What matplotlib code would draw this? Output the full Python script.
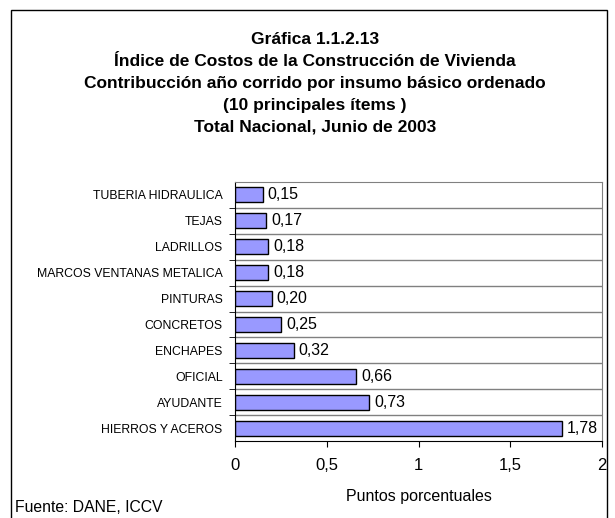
import matplotlib.pyplot as plt
from matplotlib.patches import Rectangle

plt.rcParams['font.family'] = ['Liberation Sans', 'DejaVu Sans']

items = ['TUBERIA HIDRAULICA', 'TEJAS', 'LADRILLOS', 'MARCOS VENTANAS METALICA',
         'PINTURAS', 'CONCRETOS', 'ENCHAPES', 'OFICIAL', 'AYUDANTE', 'HIERROS Y ACEROS']
values = [0.15, 0.17, 0.18, 0.18, 0.20, 0.25, 0.32, 0.66, 0.73, 1.78]
xticks = [0, 0.5, 1, 1.5, 2]
xtick_labels = ['0', '0,5', '1', '1,5', '2']
title_lines = ['Gráfica 1.1.2.13',
               'Índice de Costos de la Construcción de Vivienda',
               'Contribucción año corrido por insumo básico ordenado',
               '(10 principales ítems )',
               'Total Nacional, Junio de 2003']

W, H = 615, 518
fig = plt.figure(figsize=(W / 100, H / 100), dpi=100)

# outer frame
fig.patches.append(Rectangle((11 / W, -0.02), (607 - 11) / W, (H - 10) / H + 0.02,
                             transform=fig.transFigure, fill=False,
                             edgecolor='black', linewidth=1))

ax = fig.add_axes([235 / W, (H - 441) / H, (602 - 235) / W, (441 - 182) / H])

pos = list(range(len(items)))
ax.barh(pos, values, height=0.58, color='#9999FF', edgecolor='black', linewidth=1)
for p, v in zip(pos, values):
    ax.annotate(f'{v:.2f}'.replace('.', ','), (v, p), xytext=(5, 0),
                textcoords='offset pixels', va='center', ha='left', fontsize=11.5)

ax.set_xlim(0, 2)
ax.set_ylim(len(items) - 0.5, -0.5)
ax.set_xticks(xticks)
ax.set_xticklabels(xtick_labels, fontsize=12)
ax.set_yticks(pos)
ax.set_yticklabels(items, fontsize=8.8)
ax.tick_params(axis='y', length=0, pad=9)
ax.set_yticks([p + 0.5 for p in pos[:-1]], minor=True)
ax.tick_params(axis='y', which='minor', length=4, direction='out', color='black')
ax.tick_params(axis='x', length=4, direction='out', pad=8)

for p in pos[:-1]:
    ax.axhline(p + 0.5, color='#808080', linewidth=1, zorder=0)

for s in ['top', 'right']:
    ax.spines[s].set_color('#808080')
for s in ['left', 'bottom']:
    ax.spines[s].set_color('black')

ax.set_xlabel('Puntos porcentuales', fontsize=11.5, labelpad=12)

for i, line in enumerate(title_lines):
    fig.text(315 / W, 1 - (40 + i * 21.7) / H, line, ha='center', va='center',
             fontsize=12.5, fontweight='bold')

fig.text(15 / W, 1 - 507 / H, 'Fuente: DANE, ICCV', ha='left', va='center', fontsize=11.3)

fig.savefig('out.png', dpi=100)
